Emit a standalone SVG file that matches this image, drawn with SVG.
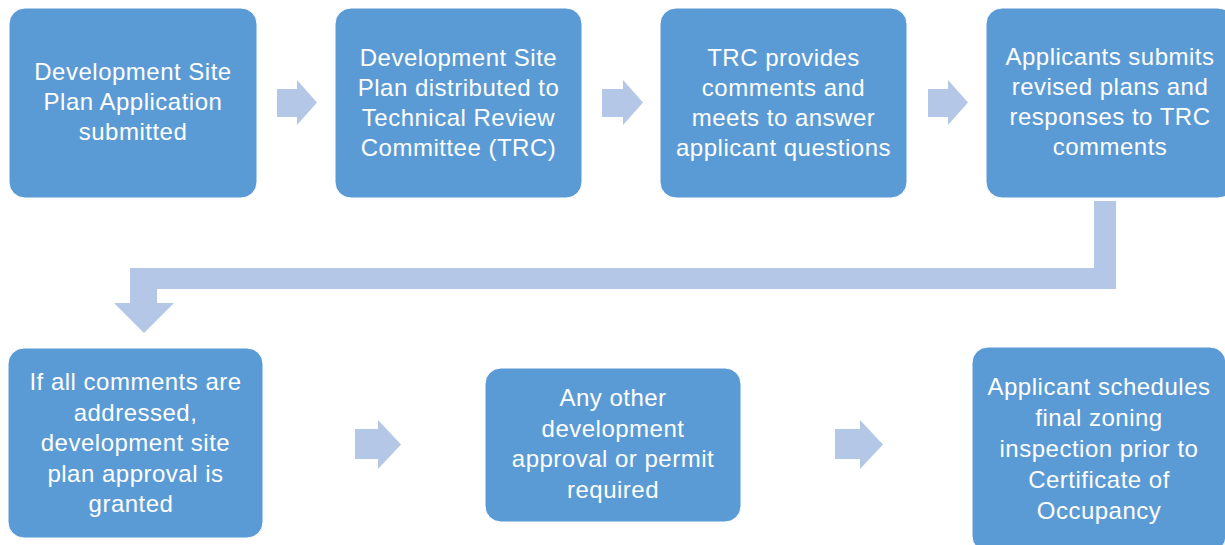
<svg xmlns="http://www.w3.org/2000/svg" width="1225" height="545" viewBox="0 0 1225 545">
<style>
.box{fill:#5B9BD5;stroke:#ffffff;stroke-width:1}
.arr{fill:#B4C7E7}
text{font-family:"Liberation Sans",Arial,sans-serif;font-size:24px;letter-spacing:0.5px;fill:#ffffff;text-anchor:middle}
</style>
<rect width="1225" height="545" fill="#ffffff"/>
<g id="connectors">
<polygon class="arr" points="277,89 297,89 297,80 317,102.5 297,125 297,117 277,117"/>
<polygon class="arr" points="602,89 623,89 623,80 643,102.5 623,125 623,117 602,117"/>
<polygon class="arr" points="928,89 948,89 948,80 968,102.5 948,125 948,117 928,117"/>
<polygon class="arr" points="1094,201 1116,201 1116,289 157,289 157,303 174,303 144,333 114,303 130,303 130,268 1094,268"/>
<polygon class="arr" points="355,429 378,429 378,420 401,444.5 378,469 378,459 355,459"/>
<polygon class="arr" points="835,429 860,429 860,420 883,444.5 860,469 860,459 835,459"/>
</g>
<g id="n1">
<rect class="box" x="9" y="8" width="248" height="190" rx="16"/>
<text x="133" y="80">Development Site</text>
<text x="133" y="110">Plan Application</text>
<text x="133" y="140">submitted</text>
</g>
<g id="n2">
<rect class="box" x="335" y="8" width="247" height="190" rx="16"/>
<text x="458.5" y="66">Development Site</text>
<text x="458.5" y="96">Plan distributed to</text>
<text x="458.5" y="126">Technical Review</text>
<text x="458.5" y="156">Committee (TRC)</text>
</g>
<g id="n3">
<rect class="box" x="660" y="8" width="247" height="190" rx="16"/>
<text x="783.5" y="66">TRC provides</text>
<text x="783.5" y="96">comments and</text>
<text x="783.5" y="126">meets to answer</text>
<text x="783.5" y="156">applicant questions</text>
</g>
<g id="n4">
<rect class="box" x="986" y="8" width="248" height="190" rx="16"/>
<text x="1110" y="65">Applicants submits</text>
<text x="1110" y="95">revised plans and</text>
<text x="1110" y="125">responses to TRC</text>
<text x="1110" y="155">comments</text>
</g>
<g id="n5">
<rect class="box" x="8" y="348" width="255" height="190" rx="16"/>
<text x="135.5" y="390">If all comments are</text>
<text x="135.5" y="420.5">addressed,</text>
<text x="135.5" y="451">development site</text>
<text x="135.5" y="481.5">plan approval is</text>
<text x="131" y="512">granted</text>
</g>
<g id="n6">
<rect class="box" x="485" y="368" width="256" height="154" rx="16"/>
<text x="613" y="406">Any other</text>
<text x="613" y="436.5">development</text>
<text x="613" y="467">approval or permit</text>
<text x="613" y="497.5">required</text>
</g>
<g id="n7">
<rect class="box" x="972" y="347" width="254" height="205" rx="16"/>
<text x="1099" y="395">Applicant schedules</text>
<text x="1099" y="426">final zoning</text>
<text x="1099" y="457">inspection prior to</text>
<text x="1099" y="488">Certificate of</text>
<text x="1099" y="519">Occupancy</text>
</g>
</svg>
